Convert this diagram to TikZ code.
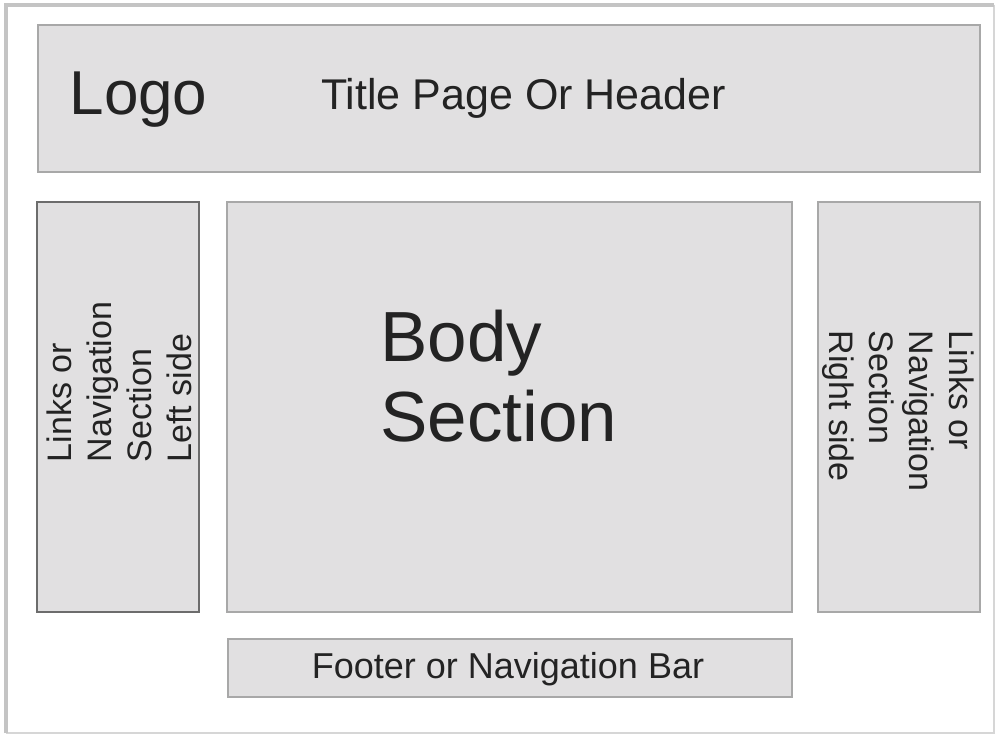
\documentclass[tikz,border=0pt]{standalone}
\usepackage{fontspec}
\setmainfont{Liberation Sans}
\usepackage{xcolor}
\usetikzlibrary{positioning}
\definecolor{panelfill}{HTML}{E1E0E1}
\definecolor{panelline}{HTML}{A8A8A8}
\definecolor{frameline}{HTML}{C4C4C4}
\definecolor{inktext}{HTML}{232323}
\tikzset{
  panel/.style={
    draw=panelline, fill=panelfill, line width=2pt,
    outer sep=0pt, inner sep=0pt
  },
  label/.style={text=inktext, inner sep=0pt, align=left},
}
\newcommand{\fsz}[2]{\fontsize{#1}{#2}\selectfont}

\begin{document}
\begin{tikzpicture}[x=1pt, y=-1pt]
  \useasboundingbox (0,0) rectangle (997,735);
  % page frame: strong on top and left, faint on the other sides
  \coordinate (tl) at (6,5);
  \coordinate (tr) at (994,5);
  \coordinate (bl) at (6,733);
  \coordinate (br) at (994,733);
  \draw[frameline!70, line width=1.5pt] (tr) -- (br) -- (bl);
  \draw[frameline, line width=4pt] (bl) -- (tl) -- (tr);

  % boxes of the page
  \node[panel, minimum width=942pt, minimum height=147pt] (header) at (509,98.5) {};
  \node[panel, minimum width=565pt, minimum height=410pt] (body) at (509.5,407) {};
  \node[panel, draw=gray!85!black, minimum width=162pt, minimum height=410pt,
        left=28pt of body]  (navL) {};
  \node[panel, minimum width=162pt, minimum height=410pt,
        right=26pt of body] (navR) {};
  \node[panel, minimum width=564pt, minimum height=58pt,
        below=27pt of body] (footer) {};

  % texts
  \node[label, font=\fsz{62}{62}, anchor=base] (logo) at (138.5,115) {Logo};
  \node[label, font=\fsz{43}{43}, anchor=base] (title) at (523.5,110) {Title Page Or Header};
  \node[label, font=\fsz{71}{80}] (bodytext) at (499,376) {Body\\Section};
  \node[label, font=\fsz{34}{40}, rotate=90] (navLtext) at (119,382)
        {Links or\\Navigation\\Section\\Left side};
  \node[label, font=\fsz{34}{40}, rotate=-90] (navRtext) at (898,411)
        {Links or\\Navigation\\Section\\Right side};
  \node[label, font=\fsz{36}{36}, anchor=base] (foottext) at (508,678)
        {Footer or Navigation Bar};

\end{tikzpicture}
\end{document}
